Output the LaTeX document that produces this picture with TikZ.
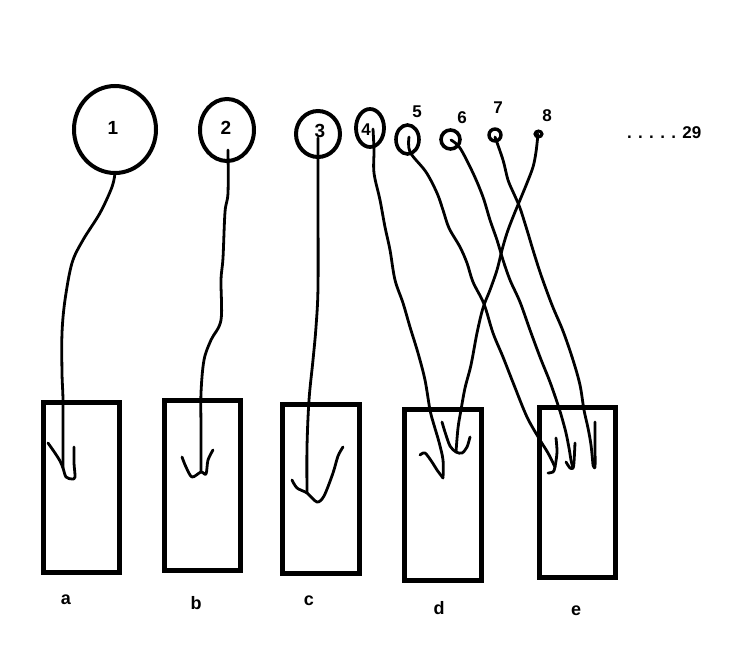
\documentclass[tikz,border=0pt]{standalone}
\usepackage{fontspec}
\setmainfont{Liberation Sans}
\usetikzlibrary{shapes.geometric}
\begin{document}
\begin{tikzpicture}[x=1pt,y=-1pt,
  ring/.style={ellipse, draw, line width=4pt, inner sep=0pt, outer sep=0pt},
  tank/.style={rectangle, draw, line width=5pt, minimum width=76pt, minimum height=170pt, inner sep=0pt},
  wire/.style={line width=2.8pt, line cap=round, line join=round},
  bignum/.style={font=\fontsize{19}{19}\selectfont\bfseries, inner sep=0pt},
  num/.style={font=\fontsize{17}{17}\selectfont\bfseries, inner sep=0pt},
  tag/.style={font=\fontsize{18}{18}\selectfont\bfseries, inner sep=0pt}]
\useasboundingbox[fill=white] (0,0) rectangle (750,664);

% sources, largest to smallest
\node[ring, minimum width=82pt, minimum height=87pt] (c1) at (115,129.5) {};
\node[ring, minimum width=54pt, minimum height=62pt] (c2) at (227,130) {};
\node[ring, minimum width=44pt, minimum height=46pt] (c3) at (318,134) {};
\node[ring, line width=3.8pt, minimum width=28pt, minimum height=38pt] (c4) at (370,128) {};
\node[ring, line width=3.6pt, minimum width=23pt, minimum height=29pt] (c5) at (407.5,139.5) {};
\node[ring, line width=3.6pt, minimum width=19pt, minimum height=19pt] (c6) at (450.5,139.5) {};
\node[ring, line width=3.4pt, minimum width=12pt, minimum height=12pt] (c7) at (495,135) {};
\node[ring, line width=3pt, minimum width=7pt, minimum height=6pt] (c8) at (538.5,134) {};

\node[bignum] (n1) at (113,128) {1};
\node[bignum] (n2) at (226,128) {2};
\node[bignum] (n3) at (320,131) {3};
\node[num] (n4) at (366,130) {4};
\node[num] (n5) at (417,112) {5};
\node[num] (n6) at (462,118) {6};
\node[num] (n7) at (498,108) {7};
\node[num] (n8) at (547,116) {8};
\node[num, anchor=base west] (n29) at (627,138) {. . . . . 29};

% targets
\node[tank] (ta) at (81.5,487) {};
\node[tank] (tb) at (202.5,485.5) {};
\node[tank, minimum width=77pt, minimum height=169pt] (tc) at (321,489) {};
\node[tank, minimum width=77pt, minimum height=171pt] (td) at (443,495) {};
\node[tank] (te) at (577.5,492.5) {};

\node[tag] (la) at (66,600) {a};
\node[tag] (lb) at (196,603) {b};
\node[tag] (lc) at (309,601) {c};
\node[tag] (ld) at (439,608) {d};
\node[tag] (le) at (576,611) {e};

% end points of the wires inside the targets
\coordinate (e1) at (63,468);
\coordinate (e2) at (201,472);
\coordinate (e3) at (307,493);
\coordinate (e4) at (443,478);
\coordinate (e5) at (555,467);
\coordinate (e6) at (573,468);
\coordinate (e7) at (593,465);
\coordinate (e8) at (456,452);

% wires
\draw[wire] plot[smooth, tension=0.55] coordinates {(c1.south) (112,187) (100,213) (83,240) (72,263) (65,300) (62,333) (62,373) (63,400) (63,440) (e1)};
\draw[wire] plot[smooth, tension=0.55] coordinates {(228,150) (228,193) (225,212) (223,258) (221,280) (221,320) (211,340) (204,360) (201,393) (201,430) (e2)};
\draw[wire] plot[smooth, tension=0.55] coordinates {(318,138) (318,200) (318,287) (316,327) (313,360) (309,400) (307,447) (e3)};
\draw[wire] plot[smooth, tension=0.55] coordinates {(373,129) (374,150) (374,173) (380,200) (385,227) (390,250) (395,280) (403,303) (410,327) (418,353) (425,380) (430,410) (434,425) (439,442) (443,460) (e4)};
\draw[wire] plot[smooth, tension=0.55] coordinates {(409,137) (410,152) (426,172) (437,193) (443,210) (449,228) (460,247) (467,263) (473,282) (484,304) (493,333) (503,357) (514,385) (527,417) (540,440) (548,453) (e5)};
\draw[wire] plot[smooth, tension=0.55] coordinates {(451,140) (460,148) (473,173) (483,197) (490,220) (497,240) (503,260) (510,280) (520,302) (530,330) (540,357) (550,382) (558,405) (562,418) (566,433) (569,448) (571,460) (e6)};
\draw[wire] plot[smooth, tension=0.55] coordinates {(495,137) (503,160) (508,180) (514,194) (520,208) (527,230) (533,250) (541,275) (552,305) (563,331) (573,360) (580,385) (584,410) (588,428) (591,445) (e7)};
\draw[wire] plot[smooth, tension=0.55] coordinates {(538,134) (536,152) (533,167) (527,183) (520,200) (513,217) (507,233) (502,250) (497,270) (490,290) (483,308) (477,333) (471,365) (465,388) (461,410) (458,428) (e8)};

% hooks at the wire ends
\draw[wire] plot[smooth, tension=0.5] coordinates {(48,443) (55,453) (60,461) (e1) (66,477) (72,479) (75,477) (74,463) (74,447)};
\draw[wire] plot[smooth, tension=0.5] coordinates {(182,457) (186,467) (192,477) (e2) (206,474) (208,460) (213,450)};
\draw[wire] plot[smooth, tension=0.5] coordinates {(292,480) (297,488) (e3) (317,502) (324,496) (333,473) (338,456) (343,447)};
\draw[wire] plot[smooth, tension=0.5] coordinates {(420,455) (425,453) (432,462) (437,470) (e4)};
\draw[wire] plot[smooth, tension=0.5] coordinates {(442,422) (445,432) (450,446) (e8) (462,453) (467,447) (470,437)};
\draw[wire] plot[smooth, tension=0.5] coordinates {(548,473) (553,472) (e5) (557,452) (556,438)};
\draw[wire] plot[smooth, tension=0.5] coordinates {(566,462) (570,468) (e6) (574,462) (575,443)};
\draw[wire] plot[smooth, tension=0.5] coordinates {(e7) (595,467) (595,445) (595,422)};
\end{tikzpicture}
\end{document}
